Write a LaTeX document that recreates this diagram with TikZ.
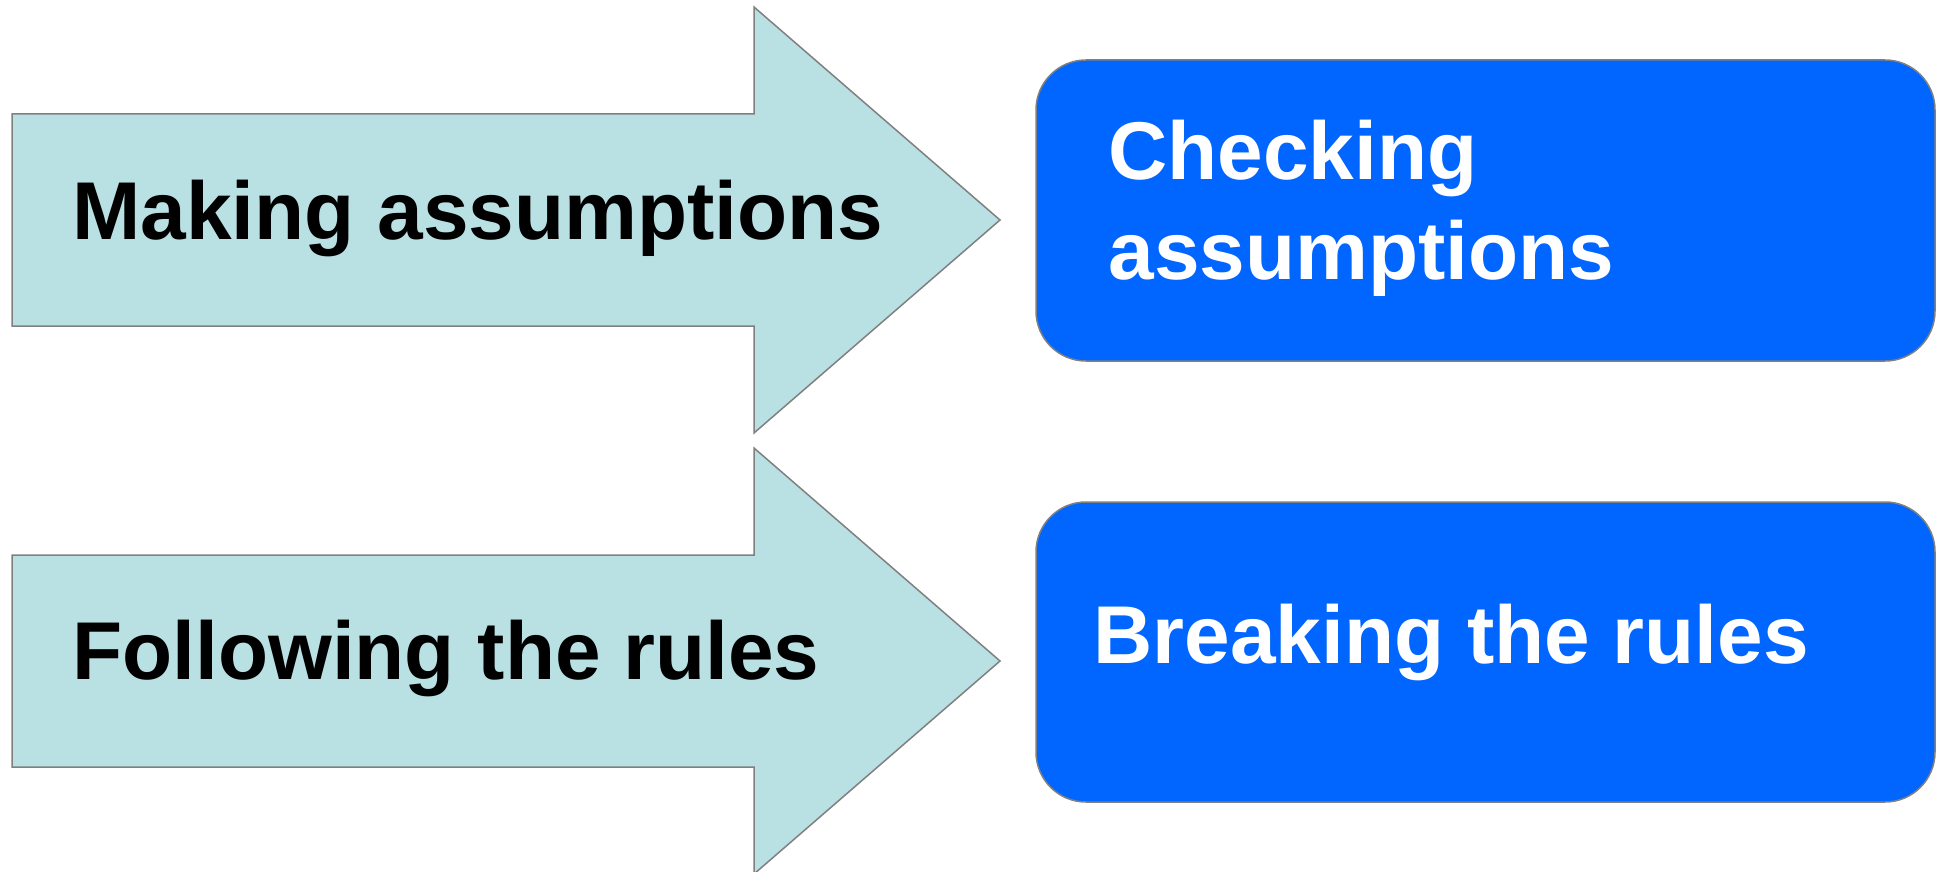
\documentclass[tikz,border=0pt]{standalone}
\usepackage{fontspec}
\setmainfont{Liberation Sans}
\begin{document}
\begin{tikzpicture}[x=0.5pt,y=-0.5pt,
  arrowshape/.style={fill=arrowfill, draw=edgegray, line width=0.75pt, line join=miter},
  bluebox/.style={fill=boxblue, draw=edgegray, line width=0.75pt, rounded corners=25pt},
  darklabel/.style={inner sep=0pt, font=\fontsize{41}{50}\selectfont\bfseries, text=black},
  lightlabel/.style={inner sep=0pt, font=\fontsize{41}{50}\selectfont\bfseries, text=white, align=left}]
\definecolor{arrowfill}{HTML}{B9E0E3}
\definecolor{edgegray}{HTML}{808080}
\definecolor{boxblue}{HTML}{0066FF}
\useasboundingbox (0,0) rectangle (1944,872);
% arrows
\draw[arrowshape] (12,114) -- (754,114) -- (754,7) -- (1000,220) -- (754,433) -- (754,326) -- (12,326) -- cycle;
\draw[arrowshape] (12,555) -- (754,555) -- (754,448) -- (1000,661) -- (754,874) -- (754,767) -- (12,767) -- cycle;
% boxes
\draw[bluebox] (1036,60) rectangle (1935,361);
\draw[bluebox] (1036,502) rectangle (1935,802);
% labels
\node[darklabel, anchor=base west] (make) at (72,239) {Making assumptions};
\node[darklabel, anchor=base west] (follow) at (72,679) {Following the rules};
\node[lightlabel, anchor=base west] (check) at (1108,279) {Checking\\assumptions};
\node[lightlabel, anchor=base west] (break) at (1093,663) {Breaking the rules};
\end{tikzpicture}
\end{document}
